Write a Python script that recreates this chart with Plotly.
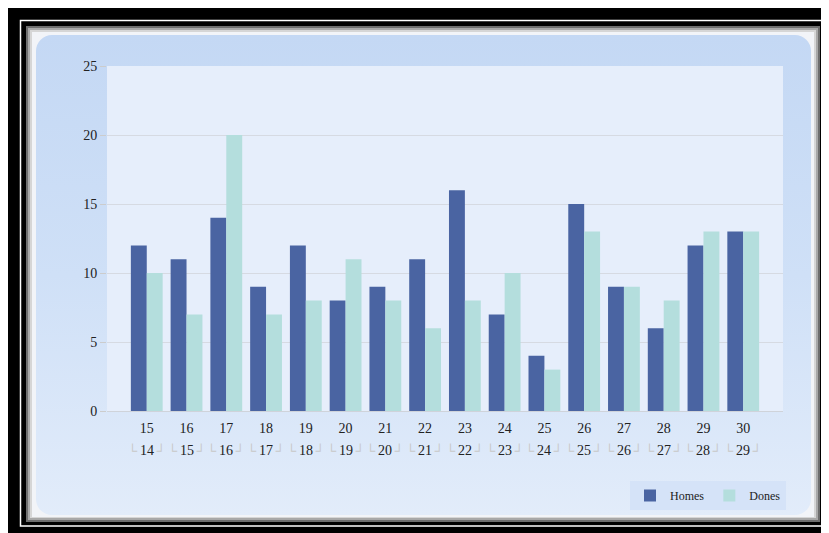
import base64
import plotly.graph_objects as go

# ---- data ----
categories = ["15", "16", "17", "18", "19", "20", "21", "22",
              "23", "24", "25", "26", "27", "28", "29", "30"]
sub_labels = ["14", "15", "16", "17", "18", "19", "20", "21",
              "22", "23", "24", "25", "26", "27", "28", "29"]
homes = [12, 11, 14, 9, 12, 8, 9, 11, 16, 7, 4, 15, 9, 6, 12, 13]
dones = [10, 7, 20, 7, 8, 11, 8, 6, 8, 10, 3, 13, 9, 8, 13, 13]
y_ticks = [0, 5, 10, 15, 20, 25]

OFF = 8                     # default body margin of the html page
W, H = 829 - OFF, 533 - OFF
L, R, T, B = 107 - OFF, 783 - OFF, 66 - OFF, 411 - OFF  # plot area (figure px)

FONT = "Liberation Serif, Times New Roman, serif"

fig = go.Figure()
fig.add_trace(go.Bar(name="Homes", x=categories, y=homes,
                     marker=dict(color="#4a64a2", line=dict(width=0))))
fig.add_trace(go.Bar(name="Dones", x=categories, y=dones,
                     marker=dict(color="#b4dedd", line=dict(width=0))))

# background frame as an SVG image (drawn in page coordinates, shifted)
svg = f'''<svg xmlns="http://www.w3.org/2000/svg" width="{W}" height="{H}" viewBox="0 0 {W} {H}">
<defs>
<linearGradient id="pg" x1="0" y1="0" x2="0" y2="1">
<stop offset="0" stop-color="#c4d8f4"/>
<stop offset="0.5" stop-color="#cfe0f7"/>
<stop offset="1" stop-color="#e2ecfa"/>
</linearGradient>
</defs>
<g transform="translate(-{OFF},-{OFF})">
<rect x="8" y="6" width="821" height="527" fill="#000000"/>
<rect x="20.5" y="20.5" width="803" height="505.5" fill="none" stroke="#ffffff" stroke-width="1.5"/>
<rect x="26" y="26" width="794" height="496" fill="#6e6e6e"/>
<rect x="28" y="28" width="790" height="492" fill="#a8a8a8"/>
<rect x="30" y="30" width="786" height="488" fill="#d6d6d6"/>
<rect x="32" y="32" width="782" height="485" fill="#f2f4f8"/>
<rect x="36" y="35" width="775" height="480" rx="16" ry="16" fill="url(#pg)"/>
<rect x="107" y="66" width="676" height="345" fill="#e6eefb"/>
</g>
</svg>'''
src = "data:image/svg+xml;base64," + base64.b64encode(svg.encode()).decode()

pw, ph = R - L, B - T
fig.add_layout_image(dict(
    source=src, xref="paper", yref="paper",
    x=-L / pw, y=B / ph, sizex=W / pw, sizey=H / ph,
    xanchor="left", yanchor="top", sizing="stretch", layer="below"))

# second row of category labels
br = "<span style='color:#c8c8c8;font-size:13px'>└</span>"
bl = "<span style='color:#c8c8c8;font-size:13px'>┘</span>"
for i, s in enumerate(sub_labels):
    fig.add_annotation(x=i, xref="x", y=(B - (450 - OFF)) / ph, yref="paper",
                       text=f"{br}\u2009{s}\u2009{bl}", showarrow=False,
                       font=dict(family=FONT, size=14, color="#222222"),
                       yanchor="middle", xanchor="center")

fig.update_layout(
    width=W, height=H,
    margin=dict(l=L, r=W - R, t=T, b=H - B, pad=0),
    paper_bgcolor="#000000",
    plot_bgcolor="rgba(0,0,0,0)",
    barmode="group", bargap=0.2, bargroupgap=0,
    font=dict(family=FONT, size=14, color="#222222"),
    showlegend=True,
    legend=dict(orientation="h", x=(786 - OFF - L) / pw, xanchor="right",
                y=(B - (481 - OFF)) / ph, yanchor="top",
                bgcolor="#d5e3f8", font=dict(family=FONT, size=12, color="#222222"),
                itemwidth=30, tracegroupgap=0),
    xaxis=dict(type="category", range=[-1, 16], showgrid=False,
               showline=True, linecolor="#cfd3da", linewidth=1,
               ticks="", ticklabelstandoff=4,
               tickfont=dict(family=FONT, size=14, color="#222222"),
               fixedrange=True),
    yaxis=dict(range=[0, 25], tickvals=y_ticks, showgrid=True,
               gridcolor="#d6dae2", gridwidth=1, zeroline=False,
               showline=False, ticks="outside", ticklen=6, tickcolor="#cccccc",
               tickfont=dict(family=FONT, size=14, color="#222222"),
               fixedrange=True),
)

fig.write_html("out.html")
